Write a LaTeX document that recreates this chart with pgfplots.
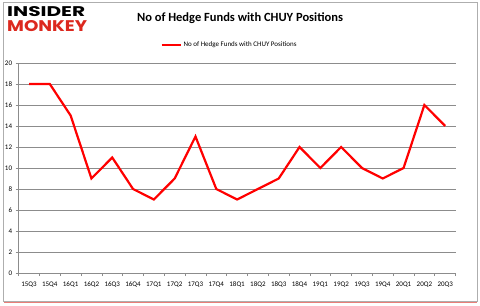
\documentclass[border=0pt]{standalone}
\usepackage{pgfplots}
\pgfplotsset{compat=1.18}
\usepackage{fontspec}
\setmainfont{Carlito}
\newfontfamily\logofont{Poppins}
\definecolor{imred}{RGB}{220,40,30}
\definecolor{gridgray}{RGB}{140,140,140}
\begin{document}
\begin{tikzpicture}[x=1bp,y=1bp]
\fill[white] (0,0) rectangle (480,305);
\draw[gridgray!70, line width=0.8bp] (3,4) rectangle (477,303);
\draw[imred!60, line width=1.5bp] (4,2.5) -- (477,2.5);
\node[anchor=west, inner sep=0pt] at (7,293) {\resizebox{78bp}{10bp}{\logofont\bfseries INSIDER}};
\node[anchor=west, inner sep=0pt] at (7,279) {\resizebox{80bp}{11bp}{\logofont\bfseries\color{imred}MONKEY}};
\node[anchor=center, inner sep=0pt] at (240,287) {\fontsize{12.5bp}{14bp}\selectfont\bfseries No of Hedge Funds with CHUY Positions};
\begin{axis}[
  at={(29bp,32bp)}, anchor=origin,
  scale only axis, width=437bp, height=210bp,
  xmin=-0.5, xmax=20.5, ymin=0, ymax=20,
  ytick={0,2,...,20},
  xtick={0,...,20},
  xticklabels={15Q3,15Q4,16Q1,16Q2,16Q3,16Q4,17Q1,17Q2,17Q3,17Q4,18Q1,18Q2,18Q3,18Q4,19Q1,19Q2,19Q3,19Q4,20Q1,20Q2,20Q3},
  minor xtick={-0.5,0.5,...,20.5},
  major x tick style={draw=none},
  minor x tick style={gridgray, line width=0.6bp},
  minor tick length=3bp,
  y tick style={gridgray, line width=0.6bp},
  major tick length=3bp,
  tick align=outside,
  xtick pos=bottom, ytick pos=left,
  ymajorgrids, major grid style={gridgray, line width=0.8bp},
  axis x line*=bottom, axis y line*=left,
  axis line style={gridgray, line width=0.8bp},
  tick label style={font=\fontsize{7bp}{8bp}\selectfont},
  /pgf/number format/assume math mode=true,
  xticklabel style={yshift=-2bp, inner xsep=0pt},
  legend style={at={(0.483,1)}, anchor=south, yshift=13bp, draw=none, fill=none,
    font=\fontsize{7bp}{8bp}\selectfont, inner sep=0pt},
  legend image code/.code={\draw[red, line width=1.8bp] (0bp,0bp) -- (19bp,0bp);},
  legend cell align=left,
]
\addplot[color=red, line width=2.2bp, mark=none] coordinates {
(0,18)(1,18)(2,15)(3,9)(4,11)(5,8)(6,7)(7,9)(8,13)(9,8)(10,7)(11,8)(12,9)(13,12)(14,10)(15,12)(16,10)(17,9)(18,10)(19,16)(20,14)};
\addlegendentry{No of Hedge Funds with CHUY Positions}
\end{axis}
\end{tikzpicture}
\end{document}
